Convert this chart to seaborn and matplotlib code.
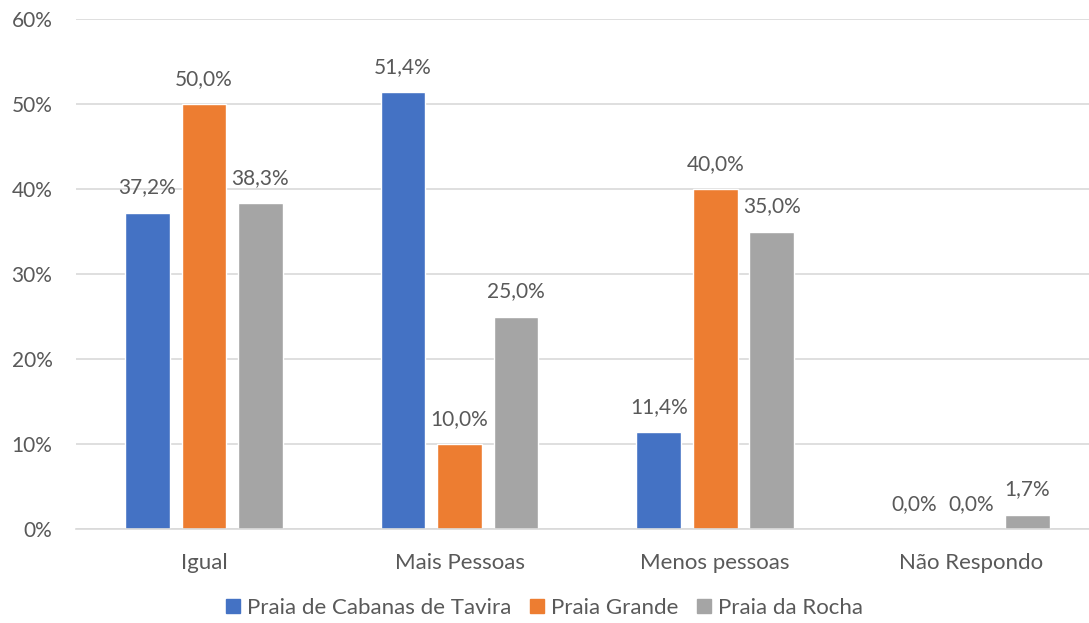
import matplotlib
matplotlib.use("Agg")
import matplotlib.pyplot as plt
import seaborn as sns
import pandas as pd

categories = ["Igual", "Mais Pessoas", "Menos pessoas", "Não Respondo"]
series = ["Praia de Cabanas de Tavira", "Praia Grande", "Praia da Rocha"]
cabanas = [37.2, 51.4, 11.4, 0.0]
grande = [50.0, 10.0, 40.0, 0.0]
rocha = [38.3, 25.0, 35.0, 1.7]
y_ticks = [0, 10, 20, 30, 40, 50, 60]

colors = ["#4472C4", "#ED7D31", "#A5A5A5"]
text_color = "#595959"
grid_color = "#D9D9D9"

rows = []
for name, vals in zip(series, [cabanas, grande, rocha]):
    for cat, v in zip(categories, vals):
        rows.append({"categoria": cat, "praia": name, "valor": v})
df = pd.DataFrame(rows)

sns.set_style("white")
plt.rcParams["font.family"] = ["Lato", "DejaVu Sans"]

fig = plt.figure(figsize=(10.89, 6.23), dpi=100)
ax = fig.add_axes([76 / 1089, 94 / 623, 1013 / 1089, 510 / 623])

sns.barplot(data=df, x="categoria", y="valor", hue="praia", order=categories,
            hue_order=series, palette=colors, width=0.663, gap=0.21,
            saturation=1, ax=ax, legend=False)

for cont in ax.containers:
    labels = [f"{b.get_height():.1f}".replace(".", ",") + "%" for b in cont]
    ax.bar_label(cont, labels=labels, padding=11, fontsize=15, color=text_color)

ax.set_xlim(-0.5, -0.5 + 1013 / 255.7)
ax.set_ylim(0, 60)
ax.set_yticks(y_ticks)
ax.set_yticklabels([f"{t}%" for t in y_ticks])
ax.yaxis.grid(True, color=grid_color, linewidth=1.2)
ax.set_axisbelow(True)
for s in ["top", "right", "left"]:
    ax.spines[s].set_visible(False)
ax.spines["bottom"].set_color(grid_color)
ax.spines["bottom"].set_linewidth(1.2)
ax.tick_params(axis="both", length=0, colors=text_color)
ax.tick_params(axis="x", pad=17, labelsize=16)
ax.tick_params(axis="y", pad=17, labelsize=15)
ax.set_xlabel("")
ax.set_ylabel("")

handles = [plt.Rectangle((0, 0), 1, 1, color=c) for c in colors]
fig.legend(handles, series, loc="lower center", bbox_to_anchor=(0.5, -0.024),
           ncol=3, frameon=False, fontsize=16, handlelength=0.63,
           handleheight=0.63, handletextpad=0.3, columnspacing=0.85,
           labelcolor=text_color)

fig.savefig("out.png", dpi=100)
